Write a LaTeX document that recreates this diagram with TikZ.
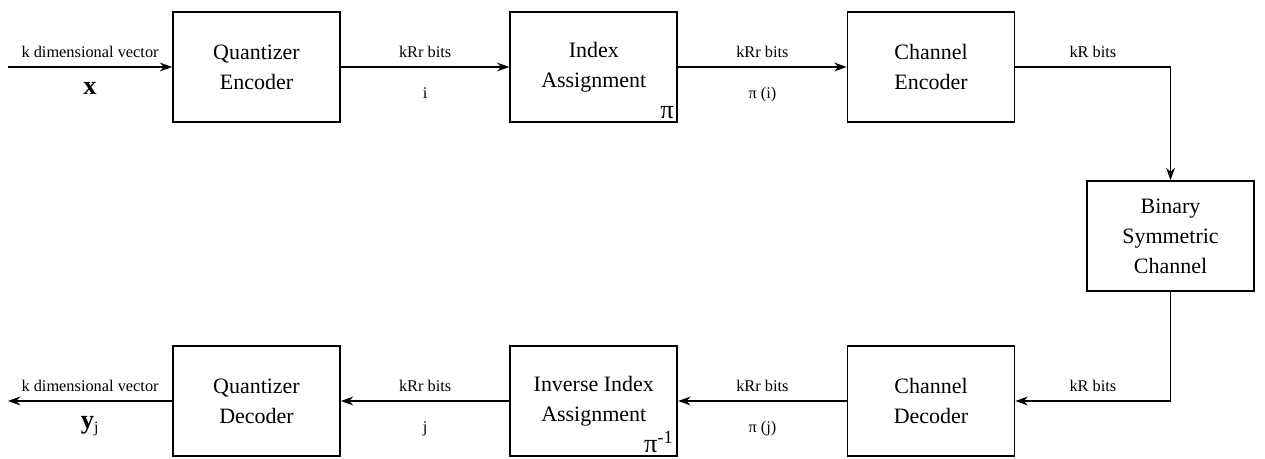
\documentclass[tikz,border=0pt]{standalone}
\usepackage{fontspec}
\setmainfont{Liberation Serif}
\usetikzlibrary{positioning,arrows.meta}
\tikzset{
    block/.style = {
       shape=rectangle, draw,
       align=center,
       minimum width = 3.34cm,
       minimum height = 2.2cm,
       font=\fontsize{12.5}{17}\selectfont
    },
    lbl/.style = {
       font=\fontsize{9.3}{11}\selectfont,
       inner sep=2pt
    },
    sym/.style = {
       font=\fontsize{15}{18}\selectfont\bfseries
    },
    pilbl/.style = {
       anchor=south east, inner sep=2pt,
       font=\fontsize{15}{18}\selectfont
    }
}
\begin{document}
\begin{tikzpicture}[->,>={Stealth[length=7pt,width=5pt]},line width=1pt,node distance=3.37cm]
   \useasboundingbox (0,0) rectangle (25.3,-9.18);
   \node[block] (QEnc) at (5.13,-1.34) {Quantizer\\Encoder};
   \node[block] (IA) [right = of QEnc] {Index\\Assignment};
   \node[block] (CEnc) [right = of IA] {Channel\\Encoder};
   \node[block] (BSC) at (23.41,-4.72) {Binary\\Symmetric\\Channel};
   \node[block] (QDec) at (5.13,-8.02) {Quantizer\\Decoder};
   \node[block] (IIA) [right = of QDec] {Inverse Index\\Assignment};
   \node[block] (CDec) [right = of IIA] {Channel\\Decoder};
   \node[pilbl] (PiA) at (IA.south east) {π};
   \node[pilbl] (PiInv) at (IIA.south east) {π\textsuperscript{-1}};
   \coordinate (XIn) at (0.16,-1.34);
   \coordinate (YOut) at (0.16,-8.02);
%   top row
\draw (XIn) -- node[lbl,above=3pt] {k dimensional vector} node[sym,below=5pt] {x} (QEnc);
\draw (QEnc) -- node[lbl,above=3pt] {kRr bits} node[lbl,below=9pt] {i} (IA);
\draw (IA) -- node[lbl,above=3pt] {kRr bits} node[lbl,below=9pt] {π (i)} (CEnc);
\draw (CEnc) -- node[lbl,above=3pt] {kR bits} (CEnc -| BSC) -- (BSC);
%   bottom row
\draw (BSC) |- node[lbl,above=3pt,pos=0.75] {kR bits} (CDec);
\draw (CDec) -- node[lbl,above=3pt] {kRr bits} node[lbl,below=9pt] {π (j)} (IIA);
\draw (IIA) -- node[lbl,above=3pt] {kRr bits} node[lbl,below=9pt] {j} (QDec);
\draw (QDec) -- node[lbl,above=3pt] {k dimensional vector} node[sym,below=5pt] {y\textsubscript{\normalfont\fontsize{9}{10}\selectfont j}} (YOut);
\end{tikzpicture}
\end{document}
